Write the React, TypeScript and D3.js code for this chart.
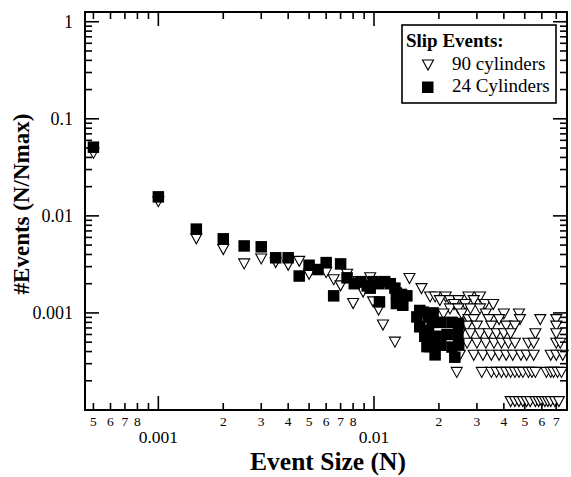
import React, { useEffect, useRef } from "react";
import * as d3 from "d3";

// 90 cylinders: [event size, #events / Nmax]
const cylinders90: [number, number][] = [
  [0.0005, 0.044], [0.001, 0.014], [0.0015, 0.0058], [0.002, 0.0045], [0.0025, 0.0032],
  [0.003, 0.0036], [0.0035, 0.0033], [0.004, 0.0031], [0.0045, 0.0034], [0.005, 0.0025],
  [0.006, 0.0026], [0.0065, 0.0022], [0.007, 0.0019], [0.0075, 0.0025], [0.008, 0.00125],
  [0.0085, 0.0021], [0.0089, 0.00164], [0.0096, 0.0023], [0.0099, 0.0013], [0.0105, 0.00107],
  [0.011, 0.00075], [0.0125, 0.0005], [0.0146, 0.00226], [0.0166, 0.00178],
  // k = 12
  [0.0182, 0.00146], [0.0192, 0.00146], [0.0215, 0.00146], [0.0274, 0.00146], [0.031, 0.00146],
  // k = 11
  [0.0202, 0.00134], [0.0225, 0.00134], [0.0246, 0.00134], [0.029, 0.00134],
  // k = 10
  [0.0235, 0.00122], [0.0265, 0.00122], [0.0327, 0.00122], [0.0357, 0.00122],
  // k = 9
  [0.0225, 0.0011], [0.0246, 0.0011], [0.028, 0.0011], [0.031, 0.0011],
  // k = 8
  [0.0188, 0.000976], [0.021, 0.000976], [0.0255, 0.000976], [0.033, 0.000976], [0.04, 0.000976], [0.047, 0.000976],
  // k = 7
  [0.0274, 0.000854], [0.029, 0.000854], [0.034, 0.000854], [0.038, 0.000854], [0.0475, 0.000854], [0.059, 0.000854], [0.07, 0.000854],
  // k = 6
  [0.0245, 0.000732], [0.027, 0.000732], [0.03, 0.000732], [0.035, 0.000732], [0.041, 0.000732], [0.045, 0.000732], [0.07, 0.000732],
  // k = 5
  [0.025, 0.00061], [0.028, 0.00061], [0.031, 0.00061], [0.034, 0.00061], [0.037, 0.00061], [0.04, 0.00061],
  [0.043, 0.00061], [0.056, 0.00061], [0.07, 0.00061],
  // k = 4
  [0.027, 0.000488], [0.03, 0.000488], [0.033, 0.000488], [0.036, 0.000488], [0.039, 0.000488], [0.042, 0.000488],
  [0.045, 0.000488], [0.052, 0.000488], [0.055, 0.000488], [0.07, 0.000488], [0.073, 0.000488],
  // k = 3
  [0.025, 0.000366], [0.029, 0.000366], [0.032, 0.000366], [0.035, 0.000366], [0.038, 0.000366], [0.041, 0.000366],
  [0.044, 0.000366], [0.048, 0.000366], [0.051, 0.000366], [0.055, 0.000366], [0.066, 0.000366], [0.07, 0.000366], [0.075, 0.000366],
  // k = 2
  [0.0242, 0.000244], [0.0316, 0.000244], [0.035, 0.000244], [0.037, 0.000244], [0.039, 0.000244], [0.041, 0.000244],
  [0.043, 0.000244], [0.045, 0.000244], [0.047, 0.000244], [0.049, 0.000244], [0.052, 0.000244], [0.054, 0.000244],
  [0.056, 0.000244], [0.063, 0.000244], [0.066, 0.000244], [0.068, 0.000244], [0.071, 0.000244], [0.074, 0.000244],
  // k = 1
  [0.043, 0.000122], [0.045, 0.000122], [0.047, 0.000122], [0.049, 0.000122], [0.051, 0.000122], [0.053, 0.000122],
  [0.056, 0.000122], [0.058, 0.000122], [0.06, 0.000122], [0.062, 0.000122], [0.064, 0.000122], [0.066, 0.000122],
  [0.069, 0.000122], [0.072, 0.000122],
];

// 24 cylinders
const cylinders24: [number, number][] = [
  [0.0005, 0.051], [0.001, 0.0157], [0.0015, 0.0073], [0.002, 0.0058], [0.0025, 0.0049],
  [0.003, 0.0048], [0.0035, 0.0037], [0.004, 0.0037], [0.0045, 0.0024], [0.005, 0.0031],
  [0.0055, 0.0028], [0.006, 0.0033], [0.0065, 0.0015], [0.007, 0.0032], [0.0075, 0.0023],
  [0.0081, 0.002], [0.0087, 0.0021], [0.0093, 0.0019], [0.0099, 0.0021], [0.0105, 0.002],
  [0.0112, 0.0021], [0.0119, 0.002], [0.0125, 0.0018], [0.0096, 0.0018], [0.0106, 0.0013],
  [0.0127, 0.0016], [0.0134, 0.00155], [0.0142, 0.0015], [0.0127, 0.00125], [0.0136, 0.0012],
  [0.0163, 0.00106], [0.0158, 0.00091], [0.0169, 0.00102], [0.0179, 0.00091], [0.0188, 0.001],
  [0.0163, 0.00072], [0.0179, 0.00066], [0.0172, 0.000575], [0.0186, 0.0008], [0.0204, 0.0008],
  [0.023, 0.0008], [0.0247, 0.00078], [0.0194, 0.000575], [0.0218, 0.0006], [0.0245, 0.0006],
  [0.0188, 0.00052], [0.0182, 0.00045], [0.0204, 0.000465], [0.023, 0.000445], [0.0247, 0.00047],
  [0.0176, 0.00045], [0.0192, 0.00037], [0.0237, 0.00035],
];

const xMajorTicks = [0.001, 0.01];
const xMajorLabels = ["0.001", "0.01"];
const xMinorTicks = [
  0.0005, 0.0006, 0.0007, 0.0008, 0.0009,
  0.002, 0.003, 0.004, 0.005, 0.006, 0.007, 0.008, 0.009,
  0.02, 0.03, 0.04, 0.05, 0.06, 0.07,
];
const xMinorLabels = [
  "5", "6", "7", "8", "",
  "2", "3", "4", "5", "6", "7", "8", "",
  "2", "3", "4", "5", "6", "7",
];
const yMajorTicks = [1, 0.1, 0.01, 0.001];
const yMajorLabels = ["1", "0.1", "0.01", "0.001"];
const yMinorTicks = [
  0.0002, 0.0003, 0.0004, 0.0005, 0.0006, 0.0007, 0.0008, 0.0009,
  0.002, 0.003, 0.004, 0.005, 0.006, 0.007, 0.008, 0.009,
  0.02, 0.03, 0.04, 0.05, 0.06, 0.07, 0.08, 0.09,
  0.2, 0.3, 0.4, 0.5, 0.6, 0.7, 0.8, 0.9,
];
const legendTitle = "Slip Events:";
const legendNames = ["90 cylinders", "24 Cylinders"];

const FONT = '"Liberation Serif", "Times New Roman", Times, serif';
const TRI = "M-5.5,-5L5.5,-5L0,5Z";

export default function App() {
  const ref = useRef<SVGSVGElement>(null);

  useEffect(() => {
    const width = 571;
    const height = 477;
    const margin = { top: 12, right: 4, bottom: 67, left: 85 };
    const x0 = margin.left, x1 = width - margin.right;
    const y0 = height - margin.bottom, y1 = margin.top;

    const svg = d3.select(ref.current);
    svg.selectAll("*").remove();

    const x = d3.scaleLog().domain([0.000457, 0.0785]).range([x0, x1]);
    const y = d3.scaleLog().domain([0.0001, 1.26]).range([y0, y1]);

    // data: triangles first, squares on top
    const plot = svg.append("g");
    plot.selectAll("path.tri").data(cylinders90).enter()
      .append("path")
      .attr("class", "tri")
      .attr("d", TRI)
      .attr("transform", d => `translate(${x(d[0])},${y(d[1])})`)
      .attr("fill", "white")
      .attr("stroke", "black")
      .attr("stroke-width", 1.1);
    plot.selectAll("rect.sq").data(cylinders24).enter()
      .append("rect")
      .attr("class", "sq")
      .attr("x", d => x(d[0]) - 5.75)
      .attr("y", d => y(d[1]) - 5.75)
      .attr("width", 11.5)
      .attr("height", 11.5)
      .attr("fill", "black");

    // frame
    svg.append("rect")
      .attr("x", x0).attr("y", y1)
      .attr("width", x1 - x0).attr("height", y0 - y1)
      .attr("fill", "none").attr("stroke", "black").attr("stroke-width", 2);

    const ticks = svg.append("g").attr("stroke", "black").attr("stroke-width", 1.6);
    const xTick = (v: number, len: number) => {
      ticks.append("line").attr("x1", x(v)).attr("x2", x(v)).attr("y1", y0).attr("y2", y0 - len);
      ticks.append("line").attr("x1", x(v)).attr("x2", x(v)).attr("y1", y1).attr("y2", y1 + len);
    };
    const yTick = (v: number, len: number) => {
      ticks.append("line").attr("y1", y(v)).attr("y2", y(v)).attr("x1", x0).attr("x2", x0 + len);
      ticks.append("line").attr("y1", y(v)).attr("y2", y(v)).attr("x1", x1).attr("x2", x1 - len);
    };
    xMajorTicks.forEach(v => xTick(v, 14));
    xMinorTicks.forEach(v => xTick(v, 7));
    yMajorTicks.forEach(v => yTick(v, 14));
    yMinorTicks.forEach(v => yTick(v, 7));

    const labels = svg.append("g").attr("font-family", FONT).attr("fill", "black");
    xMajorTicks.forEach((v, i) => {
      labels.append("text").attr("x", x(v)).attr("y", 443)
        .attr("text-anchor", "middle").attr("font-size", 17.5).text(xMajorLabels[i]);
    });
    xMinorTicks.forEach((v, i) => {
      if (!xMinorLabels[i]) return;
      labels.append("text").attr("x", x(v)).attr("y", 425.5)
        .attr("text-anchor", "middle").attr("font-size", 13.5).text(xMinorLabels[i]);
    });
    yMajorTicks.forEach((v, i) => {
      labels.append("text").attr("x", 73).attr("y", y(v)).attr("dy", "0.33em")
        .attr("text-anchor", "end").attr("font-size", 18).text(yMajorLabels[i]);
    });

    // axis titles
    labels.append("text")
      .attr("x", 328).attr("y", 469.5)
      .attr("text-anchor", "middle")
      .attr("font-size", 25.5).attr("font-weight", "bold")
      .text("Event Size (N)");
    labels.append("text")
      .attr("transform", "rotate(-90)")
      .attr("x", -204).attr("y", 29)
      .attr("text-anchor", "middle")
      .attr("font-size", 23).attr("font-weight", "bold")
      .text("#Events (N/Nmax)");

    // legend
    const lg = svg.append("g").attr("font-family", FONT);
    lg.append("rect")
      .attr("x", 402).attr("y", 25).attr("width", 154).attr("height", 78)
      .attr("fill", "white").attr("stroke", "black").attr("stroke-width", 1.6);
    lg.append("text").attr("x", 406).attr("y", 47)
      .attr("font-size", 19).attr("font-weight", "bold").text(legendTitle);
    lg.append("path").attr("d", TRI).attr("transform", "translate(428,65)")
      .attr("fill", "white").attr("stroke", "black").attr("stroke-width", 1.1);
    lg.append("rect").attr("x", 422).attr("y", 81.5).attr("width", 11.5).attr("height", 11.5)
      .attr("fill", "black");
    lg.append("text").attr("x", 452).attr("y", 70).attr("font-size", 19).text(legendNames[0]);
    lg.append("text").attr("x", 452).attr("y", 92).attr("font-size", 19).text(legendNames[1]);
  }, []);

  return (
    <svg
      ref={ref}
      width={571}
      height={477}
      style={{ position: "absolute", left: 0, top: 0, background: "white" }}
    />
  );
}
